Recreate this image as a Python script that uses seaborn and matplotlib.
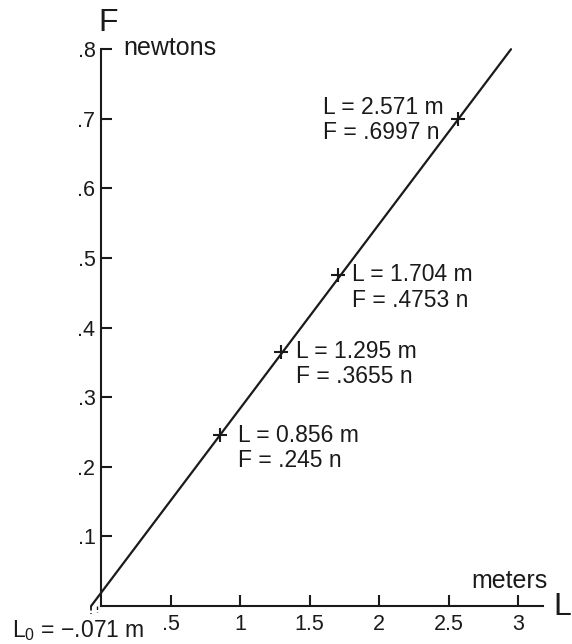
import matplotlib
matplotlib.use("Agg")
import matplotlib.pyplot as plt
import seaborn as sns
import pandas as pd

# ---- data ----
L_vals = [0.856, 1.295, 1.704, 2.571]
F_vals = [0.245, 0.3655, 0.4753, 0.6997]
L_text = ["0.856", "1.295", "1.704", "2.571"]
F_text = [".245", ".3655", ".4753", ".6997"]
L0 = -0.071
F_top = 0.8
x_ticks = [0.5, 1, 1.5, 2, 2.5, 3]
x_tick_labels = [".5", "1", "1.5", "2", "2.5", "3"]
y_ticks = [0.1, 0.2, 0.3, 0.4, 0.5, 0.6, 0.7, 0.8]
y_tick_labels = [".1", ".2", ".3", ".4", ".5", ".6", ".7", ".8"]

sns.set_theme(style="white")
plt.rcParams['font.family'] = ['Liberation Sans', 'DejaVu Sans']
plt.rcParams['mathtext.fontset'] = 'custom'
plt.rcParams['mathtext.rm'] = 'Liberation Sans'

W, H = 572, 644
fig = plt.figure(figsize=(W / 100, H / 100), dpi=100)
ax = fig.add_axes([0, 0, 1, 1])
x0, sx = 101.0, 139.0
y0, sy = 606.0, 696.0
ax.set_xlim(-x0 / sx, (W - x0) / sx)
ax.set_ylim(-(H - y0) / sy, y0 / sy)
ax.set_facecolor("white")

# fitted line through L0 and the measured points
k = F_vals[-1] / (L_vals[-1] - L0)
line_df = pd.DataFrame({"L": [L0, L0 + F_top / k], "F": [0.0, F_top]})
sns.lineplot(data=line_df, x="L", y="F", color="#1a1a1a", linewidth=1.6, ax=ax)

pts = pd.DataFrame({"L": L_vals, "F": F_vals})
sns.scatterplot(data=pts, x="L", y="F", marker="+", s=100, linewidth=1.5,
                color="#1a1a1a", ax=ax, zorder=5)

# small dashed marks at L0 below the axis
ax.plot([L0, L0], [0, -0.012], color="#1a1a1a", linewidth=1.3, linestyle=(0, (2.5, 1.5)))
ax.plot([-0.03, -0.03], [0, -0.009], color="#1a1a1a", linewidth=1.0, linestyle=(0, (2.5, 1.5)))

# spines
for s in ["top", "right"]:
    ax.spines[s].set_visible(False)
ax.spines["left"].set_position(("data", 0))
ax.spines["bottom"].set_position(("data", 0))
ax.spines["left"].set_bounds(0, 0.8)
ax.spines["bottom"].set_bounds(0, 3.18)
for s in ["left", "bottom"]:
    ax.spines[s].set_linewidth(1.5)
    ax.spines[s].set_color("#1a1a1a")
    ax.spines[s].set_visible(True)

ax.set_xticks(x_ticks)
ax.set_xticklabels(x_tick_labels)
ax.set_yticks(y_ticks)
ax.set_yticklabels(y_tick_labels)
ax.tick_params(axis="both", direction="in", length=8, width=1.5, colors="#1a1a1a",
               labelsize=15.5, labelcolor="#1a1a1a")
ax.tick_params(axis="x", pad=6)
ax.tick_params(axis="y", pad=4)
ax.tick_params(bottom=True, left=True)
ax.set_xlabel("")
ax.set_ylabel("")
ax.grid(False)

# annotations
offsets = [(18, -12.5), (15, -12.5), (14, -12.5), (-135, -1)]
for L, F, lt, ft, (dx, dy) in zip(L_vals, F_vals, L_text, F_text, offsets):
    ax.annotate(f"L = {lt} m\nF = {ft} n", xy=(L, F), xytext=(dx * 0.72, dy * 0.72),
                textcoords="offset points", ha="left", va="center",
                fontsize=16.5, linespacing=1.15, color="#1a1a1a")

def px(xp, yp):
    return ((xp - x0) / sx, (y0 - yp) / sy)

ax.text(*px(108, 23), "F", fontsize=23, ha="center", va="center", color="#1a1a1a")
ax.text(*px(562, 607), "L", fontsize=23, ha="center", va="center", color="#1a1a1a")
ax.text(*px(123, 48), "newtons", fontsize=18, ha="left", va="center", color="#1a1a1a")
ax.text(*px(548, 581), "meters", fontsize=18, ha="right", va="center", color="#1a1a1a")
ax.text(*px(12, 631), r"$\mathregular{L_0}$ = −.071 m", fontsize=16.5, ha="left",
        va="center", color="#1a1a1a")

fig.savefig("out.png", dpi=100, facecolor="white")
